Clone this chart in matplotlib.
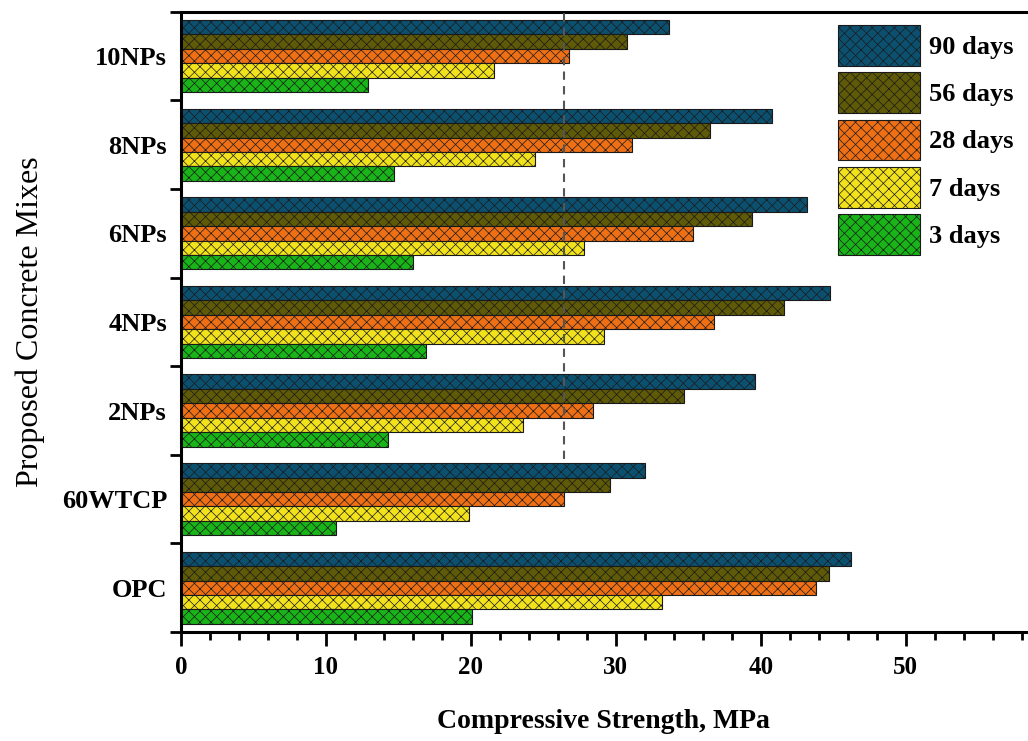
import numpy as np
import matplotlib
matplotlib.use("Agg")
import matplotlib.pyplot as plt

plt.rcParams['font.family'] = ['Liberation Serif', 'DejaVu Serif']
plt.rcParams['hatch.linewidth'] = 0.5

mixes = ['OPC', '60WTCP', '2NPs', '4NPs', '6NPs', '8NPs', '10NPs']
ages = ['90 days', '56 days', '28 days', '7 days', '3 days']
colors = ['#0c5070', '#5e5a08', '#ee6f14', '#f2e21c', '#18b418']

# compressive strength, MPa (per mix, OPC first)
d90 = [46.2, 32.0, 39.6, 44.8, 43.2, 40.8, 33.7]
d56 = [44.7, 29.6, 34.7, 41.6, 39.4, 36.5, 30.8]
d28 = [43.8, 26.4, 28.4, 36.8, 35.3, 31.1, 26.8]
d7 = [33.2, 19.9, 23.6, 29.2, 27.8, 24.4, 21.6]
d3 = [20.1, 10.7, 14.3, 16.9, 16.0, 14.7, 12.9]
series = [d90, d56, d28, d7, d3]
ref_line = 26.4

fig = plt.figure(figsize=(10.28, 7.41), dpi=100)
ax = fig.add_axes([0.176, 0.147, 0.822, 0.837])

y = np.arange(len(mixes))
h = 0.163
for i, (vals, lab, col) in enumerate(zip(series, ages, colors)):
    ax.barh(y + (2 - i) * h, vals, height=h, color=col, edgecolor='#1a1a1a',
            linewidth=0.8, hatch='xxx', label=lab, zorder=2)

ax.vlines(ref_line, 1.45, 6.5, colors='#555555', linestyles=(0, (4, 3)),
          linewidth=1.5, zorder=3)

ax.set_xlim(0, 58.3)
ax.set_ylim(-0.5, 6.5)
ax.set_xticks([0, 10, 20, 30, 40, 50])
ax.set_xticks(np.arange(0, 58.3, 2), minor=True)
ax.set_yticks(y)
ax.set_yticklabels(mixes, fontsize=19, fontweight='bold')
ax.set_yticks(np.arange(-0.5, 7, 1), minor=True)
for lbl in ax.get_xticklabels():
    lbl.set_fontsize(18)
    lbl.set_fontweight('bold')

ax.tick_params(axis='y', which='major', length=0, pad=10)
ax.tick_params(axis='y', which='minor', length=8, width=2, direction='out')
ax.tick_params(axis='x', which='major', length=10, width=2, direction='out', pad=7)
ax.tick_params(axis='x', which='minor', length=6, width=2, direction='out')

for s in ax.spines.values():
    s.set_linewidth(2.2)
ax.spines['right'].set_visible(False)

ax.set_xlabel('Compressive Strength, MPa', fontsize=20, fontweight='bold', labelpad=22)
ax.set_ylabel('Proposed Concrete Mixes', fontsize=23, labelpad=12)

ax.legend(loc='upper left', bbox_to_anchor=(0.778, 0.979), frameon=False,
          prop={'size': 19, 'weight': 'bold'}, handlelength=3.1,
          handleheight=2.0, labelspacing=0.25, handletextpad=0.35,
          borderaxespad=0, borderpad=0)

fig.savefig('out.png', dpi=100)
